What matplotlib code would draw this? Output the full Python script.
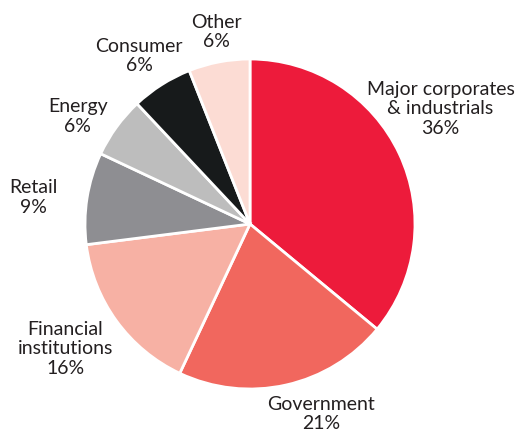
import numpy as np
import matplotlib.pyplot as plt

labels = ['Major corporates\n& industrials', 'Government', 'Financial\ninstitutions',
          'Retail', 'Energy', 'Consumer', 'Other']
shares = [36, 21, 16, 9, 6, 6, 6]
colors = ['#ED1B3B', '#F1675E', '#F7B1A4', '#8E8E92', '#BDBDBD', '#171A1B', '#FCDCD4']
# how far each label sits from the centre (in pie radii)
label_dist = [1.35, 1.23, 1.35, 1.32, 1.23, 1.22, 1.18]
label_shift = [6, 8, -2, 2, 4, 1, -1]  # degrees, nudges labels around the rim

plt.rcParams['font.family'] = ['Lato', 'DejaVu Sans']

fig = plt.figure(figsize=(5.18, 4.32), dpi=100)
ax = fig.add_axes([85 / 518, 43 / 432, 330 / 518, 330 / 432])

wedges, _ = ax.pie(shares, colors=colors, startangle=90, counterclock=False,
                   wedgeprops=dict(edgecolor='white', linewidth=2))

for w, lab, pct, d, s in zip(wedges, labels, shares, label_dist, label_shift):
    ang = np.deg2rad((w.theta1 + w.theta2) / 2 + s)
    ax.text(d * np.cos(ang), d * np.sin(ang), f'{lab}\n{pct}%',
            ha='center', va='center', fontsize=14, color='#231F20',
            linespacing=1.18)

ax.set_xlim(-1, 1)
ax.set_ylim(-1, 1)
ax.set_aspect('equal')
ax.axis('off')

fig.savefig('out.png', dpi=100)
